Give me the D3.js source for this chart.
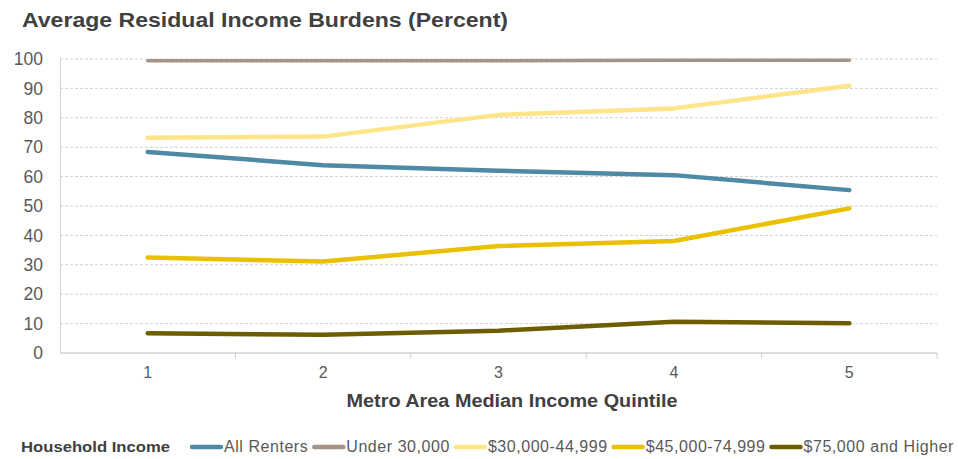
<!DOCTYPE html>
<html>
<head>
<meta charset="utf-8">
<script src="https://cdn.jsdelivr.net/npm/d3@7"></script>
<style>
  body { margin: 0; background: #fff; }
  svg text { font-family: "Liberation Sans", Arial, sans-serif; }
</style>
</head>
<body>
<div id="chart"></div>
<script>
// Data
var quintiles = ["1", "2", "3", "4", "5"];
var seriesNames = ["All Renters", "Under 30,000", "$30,000-44,999", "$45,000-74,999", "$75,000 and Higher"];
var allRenters = [68.4, 63.9, 62.0, 60.5, 55.4];
var under30 = [99.4, 99.4, 99.4, 99.6, 99.6];
var from30to45 = [73.2, 73.6, 81.0, 83.2, 90.9];
var from45to75 = [32.5, 31.1, 36.4, 38.1, 49.2];
var above75 = [6.7, 6.2, 7.6, 10.6, 10.1];
var yTicks = [0, 10, 20, 30, 40, 50, 60, 70, 80, 90, 100];
var colors = ["#4e89a5", "#a39489", "#ffe48a", "#e9c100", "#6e5c00"];
var widths = [4.5, 3.5, 4.5, 4.5, 4.5];

var width = 958, height = 459;
var margin = {top: 59, right: 21, bottom: 106, left: 60};

var svg = d3.select('#chart')
  .append('svg')
    .attr('width', width)
    .attr('height', height);

// Title
svg.append("text")
  .attr("x", 22)
  .attr("y", 27)
  .attr("textLength", 486)
  .attr("lengthAdjust", "spacingAndGlyphs")
  .style("font-size", "21px")
  .style("font-weight", "bold")
  .style("fill", "#404040")
  .text("Average Residual Income Burdens (Percent)");

var x = d3.scaleBand()
  .domain(quintiles)
  .range([margin.left, width - margin.right]);

var y = d3.scaleLinear()
  .domain([0, 100])
  .range([height - margin.bottom, margin.top]);

// Gridlines
svg.append("g")
  .selectAll("line")
  .data(yTicks.filter(function(d) { return d > 0; }))
  .enter().append("line")
    .attr("x1", margin.left)
    .attr("x2", width - margin.right)
    .attr("y1", function(d) { return y(d); })
    .attr("y2", function(d) { return y(d); })
    .style("stroke", "#d0d0d0")
    .style("stroke-width", 1)
    .style("stroke-dasharray", "3,2");

// Y axis
var yAxis = svg.append("g")
  .attr("transform", `translate(${margin.left},0)`)
  .call(d3.axisLeft(y).tickValues(yTicks).tickSize(0).tickPadding(17));
yAxis.select(".domain").style("stroke", "#d0d0d0");
yAxis.selectAll("text")
  .style("font-size", "17.5px")
  .style("fill", "#595959");

// X axis (ticks at band boundaries)
var xAxis = svg.append("g")
  .attr("transform", `translate(0,${y(0)})`);
xAxis.append("line")
  .attr("x1", margin.left)
  .attr("x2", width - margin.right)
  .style("stroke", "#d0d0d0")
  .style("stroke-width", 1.5);
xAxis.selectAll(".tk")
  .data(quintiles)
  .enter().append("line")
    .attr("class", "tk")
    .attr("x1", function(d) { return x(d) + x.bandwidth(); })
    .attr("x2", function(d) { return x(d) + x.bandwidth(); })
    .attr("y1", 0)
    .attr("y2", 6)
    .style("stroke", "#d0d0d0");
xAxis.selectAll(".lbl")
  .data(quintiles)
  .enter().append("text")
    .attr("class", "lbl")
    .attr("x", function(d) { return x(d) + x.bandwidth() / 2; })
    .attr("y", 25)
    .attr("text-anchor", "middle")
    .attr("transform-origin", function(d) { return (x(d) + x.bandwidth() / 2) + " 25"; })
    .style("font-size", "16px")
    .style("fill", "#595959")
    .text(function(d) { return d; });

svg.append("text")
  .attr("x", 512)
  .attr("y", 407)
  .attr("text-anchor", "middle")
  .attr("textLength", 331)
  .attr("lengthAdjust", "spacingAndGlyphs")
  .style("font-size", "18px")
  .style("font-weight", "bold")
  .style("fill", "#404040")
  .text("Metro Area Median Income  Quintile");

// Lines
var series = [allRenters, under30, from30to45, from45to75, above75];
var line = d3.line()
  .x(function(d, i) { return x(quintiles[i]) + x.bandwidth() / 2; })
  .y(function(d) { return y(d); });

svg.append("g")
  .selectAll("path")
  .data(series)
  .enter().append("path")
    .attr("d", line)
    .style("fill", "none")
    .style("stroke", function(d, i) { return colors[i]; })
    .style("stroke-width", function(d, i) { return widths[i]; })
    .style("stroke-linecap", "round")
    .style("stroke-linejoin", "round");

// Legend
var legend = svg.append("g")
  .attr("transform", "translate(0,452)");
legend.append("text")
  .attr("x", 21)
  .attr("y", 0)
  .attr("textLength", 149)
  .attr("lengthAdjust", "spacingAndGlyphs")
  .style("font-size", "15.5px")
  .style("font-weight", "bold")
  .style("fill", "#404040")
  .text("Household Income");

var cx = 190;
seriesNames.forEach(function(name, i) {
  legend.append("line")
    .attr("x1", cx + 2)
    .attr("x2", cx + 31)
    .attr("y1", -5)
    .attr("y2", -5)
    .style("stroke", colors[i])
    .style("stroke-width", 4.5)
    .style("stroke-linecap", "round");
  var t = legend.append("text")
    .attr("x", cx + 34)
    .attr("y", 0)
    .style("font-size", "16px")
    .style("letter-spacing", "0.55px")
    .style("fill", "#595959")
    .text(name);
  cx += 34 + t.node().getComputedTextLength() + 4;
});
</script>
</body>
</html>
